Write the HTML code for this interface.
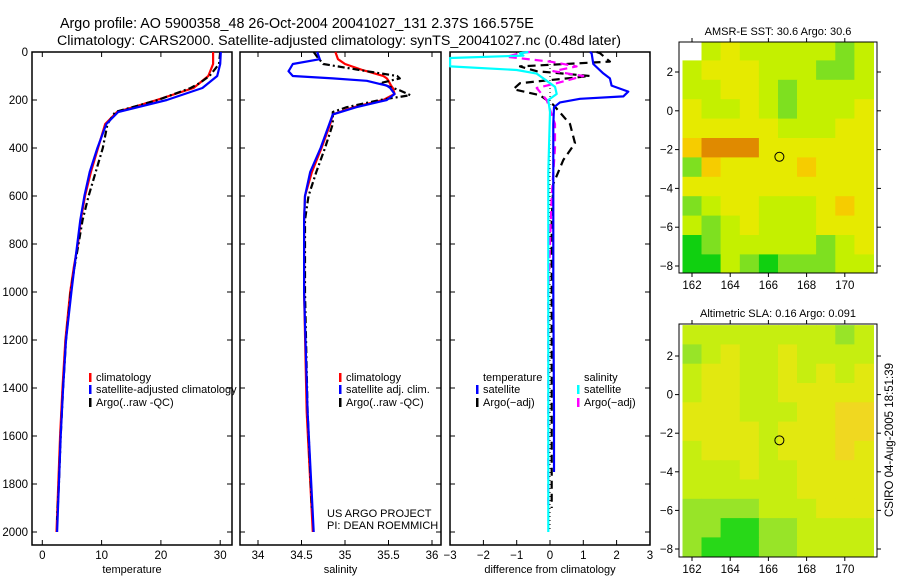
<!DOCTYPE html>
<html><head><meta charset="utf-8"><style>
html,body{margin:0;padding:0;background:#fff;}
svg{display:block;font-family:"Liberation Sans",sans-serif;}
</style></head><body>
<svg id="fig" width="900" height="580" viewBox="0 0 900 580">
<text x="60" y="28" font-size="14.3">Argo profile: AO 5900358_48 26-Oct-2004 20041027_131 2.37S 166.575E</text>
<text x="57" y="45" font-size="14.2" textLength="564" lengthAdjust="spacingAndGlyphs">Climatology: CARS2000. Satellite-adjusted climatology: synTS_20041027.nc (0.48d later)</text>
</svg>
<script>
// ---------- DATA ----------
const depthLevels = [0,50,100,150,200,250,300,400,500,600,700,800,900,1000,1200,1400,1600,1800,2000];
const tempClim = [28.8,28.8,28,25.5,19.3,12.6,10.6,9.4,8.2,7.2,6.5,6,5.3,4.7,3.9,3.4,3.0,2.7,2.4];
const tempSat = [30.1,30,29.5,27,21,12.8,10.8,9.3,8.0,7.1,6.4,5.9,5.4,4.9,4.0,3.5,3.1,2.8,2.5];
const tempArgoDepth = [0,50,100,130,150,200,250,300,400,500,600,700,800,900,1000,1200,1400,1600,1800,1950];
const tempArgo = [30,29.8,28.2,26.5,25,19.5,12.3,11,10.2,9,7.8,6.8,6.1,5.4,4.8,4.0,3.5,3.1,2.8,2.5];

const salDepth = [0,30,50,75,80,100,110,120,140,150,175,200,230,260,300,400,500,600,700,1000,1500,2000];
const salClim = [34.89,34.92,35.0,35.2,35.25,35.44,35.48,35.5,35.53,35.55,35.57,35.44,35.1,34.86,34.83,34.73,34.62,34.54,34.53,34.53,34.56,34.63];
const salSat = [34.68,34.71,34.4,34.36,34.35,34.4,34.86,35.25,35.48,35.52,35.57,35.48,35.13,34.86,34.82,34.72,34.6,34.54,34.53,34.53,34.57,34.64];
const salArgoDepth = [0,20,50,80,100,110,130,160,180,200,230,250,300,400,500,600,700,1000,1500,1900];
const salArgo = [34.64,34.68,34.75,35.25,35.6,35.63,35.4,35.63,35.75,35.4,35.02,34.86,34.86,34.77,34.67,34.58,34.54,34.54,34.57,34.62];

const dTempSatDepth = [0,5,50,89,110,140,165,185,195,210,230,300,600,1000,1500,1750];
const dTempSat = [1.2,1.25,1.3,1.6,1.8,1.85,2.35,2.2,0.9,0.3,0.12,0.1,0.1,0.1,0.12,0.12];
const dSalSatDepth = [0,5,15,25,40,60,75,90,120,145,175,200,250,500,1000,1500,2000];
const dSalSat = [-0.65,-0.9,-0.8,-3,-3,-3,-1,-0.4,-0.1,0.15,0.2,-0.05,0,-0.05,-0.05,-0.05,-0.05];
const dTempArgoDepth = [0,5,40,60,80,100,130,155,180,220,300,380,450,550,700,1000,1500,1900];
const dTempArgo = [1.4,1.5,1.8,-0.9,-0.4,1.2,-0.9,-1.1,-0.3,0.1,0.6,0.75,0.4,0.1,0.05,0.05,0.05,0.05];
const dSalArgoDepth = [0,5,20,40,60,80,100,130,150,200,300,400,600,1000,1500,1900];
const dSalArgo = [-0.6,-0.9,-1.3,0.0,0.8,0.1,1.0,0.2,-0.4,-0.1,0.15,0.15,0.05,-0.05,-0.05,-0.05];

const depthTicks = [0,200,400,600,800,1000,1200,1400,1600,1800,2000];
const tempTicks = [0,10,20,30];
const salTicks = [34,34.5,35,35.5,36];
const salTickLabels = ["34","34.5","35","35.5","36"];
const diffTicks = [-3,-2,-1,0,1,2,3];
const lonTicks = [162,164,166,168,170];
const latTicks = [-8,-6,-4,-2,0,2];

const sstGrid = [
 [-1,2,3,2,2,2,2,2,1,2],
 [2,3,3,3,2,2,2,1,1,2],
 [2,2,3,3,2,1,2,2,2,2],
 [3,2,2,3,2,1,2,2,2,3],
 [3,3,3,3,3,2,2,2,3,3],
 [4,5,5,5,3,3,3,3,3,3],
 [1,4,3,3,3,3,4,3,3,3],
 [3,3,3,3,3,3,3,3,3,3],
 [1,2,3,3,2,2,2,3,4,3],
 [2,1,2,3,2,2,2,3,3,3],
 [0,1,2,2,2,2,2,1,2,3],
 [0,0,2,1,0,1,1,1,2,2]];
const slaGrid = [
 [2,2,2,2,2,2,2,2,1,2],
 [1,2,3,2,2,3,2,2,2,2],
 [2,3,3,2,2,3,2,3,2,3],
 [2,3,3,2,2,3,3,3,3,3],
 [3,3,3,2,2,2,3,3,4,4],
 [3,3,3,3,2,3,3,3,4,4],
 [2,3,3,3,2,3,3,3,4,3],
 [2,2,2,3,2,2,3,3,3,3],
 [2,2,2,2,2,2,3,3,3,3],
 [1,1,1,1,2,2,2,3,3,3],
 [1,1,0,0,1,1,2,2,2,2],
 [1,0,0,0,1,1,2,2,2,2]];
const floatLon = 166.575, floatLat = -2.37;

// ---------- DRAWING ----------
const svg = document.getElementById('fig');
const NS = 'http://www.w3.org/2000/svg';
function mk(tag, attrs, parent){const e=document.createElementNS(NS,tag);for(const k in attrs)e.setAttribute(k,attrs[k]);(parent||svg).appendChild(e);return e;}
function txt(x,y,s,size,anchor,parent){const t=mk('text',{x:x,y:y,'font-size':size,'text-anchor':anchor||'start'},parent);t.textContent=s;return t;}

const yD = d => 52 + d*0.24;
const panels = [
 {name:'temperature-panel', x0:32, x1:232, f:v=>42.3+v*5.93, ticks:tempTicks, labels:tempTicks.map(String), title:'temperature'},
 {name:'salinity-panel', x0:240, x1:441, f:v=>258+(v-34)*87, ticks:salTicks, labels:salTickLabels, title:'salinity'},
 {name:'difference-panel', x0:450, x1:650, f:v=>550+v*33.3, ticks:diffTicks, labels:diffTicks.map(v=>v<0?'\u2212'+(-v):String(v)), title:'difference from climatology'}
];
panels.forEach((p,i)=>{
  const g = mk('g',{});
  
  
  const r = mk('rect',{x:p.x0,y:52,width:p.x1-p.x0,height:493,fill:'none',stroke:'#000','stroke-width':1.5},g);
  
  
  depthTicks.forEach(d=>{
    mk('line',{x1:p.x0,x2:p.x0+5,y1:yD(d),y2:yD(d),stroke:'#000'},g);
    mk('line',{x1:p.x1-5,x2:p.x1,y1:yD(d),y2:yD(d),stroke:'#000'},g);
    if(i===0){const t=txt(28,yD(d)+4,String(d),11.5,'end',g);
      
      }
  });
  p.ticks.forEach((v,k)=>{
    const x=p.f(v);
    mk('line',{x1:x,x2:x,y1:52,y2:57,stroke:'#000'},g);
    mk('line',{x1:x,x2:x,y1:540,y2:545,stroke:'#000'},g);
    const t=txt(x,559,p.labels[k],11.5,'middle',g);
    
    
  });
  const xt=txt((p.x0+p.x1)/2,573,p.title,11,'middle',g);
  
  
});

function series(depths, vals, f, color, dash, name){
  const pts = depths.map((d,i)=>f(vals[i]).toFixed(1)+','+yD(d).toFixed(1)).join(' ');
  const a={points:pts,fill:'none',stroke:color,'stroke-width':2.2,'stroke-linejoin':'round'};
  if(dash)a['stroke-dasharray']=dash;
  const pl=mk('polyline',a);
  
  
}
const fT=panels[0].f, fS=panels[1].f, fD=panels[2].f;
series(depthLevels,tempClim,fT,'#f00',null,'temp-climatology-line');
series(tempArgoDepth,tempArgo,fT,'#000','7,3,2,3','temp-argo-line');
series(depthLevels,tempSat,fT,'#00f',null,'temp-satellite-line');
series(salDepth,salClim,fS,'#f00',null,'sal-climatology-line');
series(salArgoDepth,salArgo,fS,'#000','7,3,2,3','sal-argo-line');
series(salDepth,salSat,fS,'#00f',null,'sal-satellite-line');
const zl=mk('line',{x1:fD(0),x2:fD(0),y1:yD(0),y2:yD(2000),stroke:'#000','stroke-dasharray':'1,3'});


series(dTempArgoDepth,dTempArgo,fD,'#000','8,5','diff-temp-argo-line');
series(dSalArgoDepth,dSalArgo,fD,'#f0f','8,5','diff-sal-argo-line');
series(dTempSatDepth,dTempSat,fD,'#00f',null,'diff-temp-satellite-line');
series(dSalSatDepth,dSalSat,fD,'#0ff',null,'diff-sal-satellite-line');

function legend(x,y,color,label,name){
  const g=mk('g',{});
  
  
  if(color) mk('rect',{x:x,y:y-8,width:2.5,height:9,fill:color},g);
  txt(x+7,y,label,11,'start',g);
}
legend(89,381,'#f00','climatology','legend-climatology');
legend(89,393,'#00f','satellite-adjusted climatology','legend-satellite-adjusted');
legend(89,406,'#000','Argo(..raw -QC)','legend-argo');
legend(339,381,'#f00','climatology','legend-sal-climatology');
legend(339,393,'#00f','satellite adj. clim.','legend-sal-satellite');
legend(339,406,'#000','Argo(..raw -QC)','legend-sal-argo');
legend(476,381,null,'temperature','legend-temperature-header');
legend(476,393,'#00f','satellite','legend-diff-temp-satellite');
legend(476,406,'#000','Argo(\u2212adj)','legend-diff-temp-argo');
legend(577,381,null,'salinity','legend-salinity-header');
legend(577,393,'#0ff','satellite','legend-diff-sal-satellite');
legend(577,406,'#f0f','Argo(\u2212adj)','legend-diff-sal-argo');
const c1=txt(327,517,'US ARGO PROJECT',11);


const c2=txt(327,529,'PI: DEAN ROEMMICH',11);



const sstColors={'-1':'#ffffff',0:'#10d010',1:'#7ee020',2:'#c4f000',3:'#e6ea00',4:'#f6cc00',5:'#e08a00',6:'#b02000'};
const slaColors={'-1':'#ffffff',0:'#28d818',1:'#98e428',2:'#c6ee10',3:'#e2e810',4:'#f0d820'};
function drawMap(top,bottom,lat2y,lat8y,grid,colors,title,name){
  const g=mk('g',{});
  
  
  const L=679,R=877;
  const fx=lon=>692+(lon-162)*19.1;
  const fy=lat=>lat2y+(2-lat)*(lat8y-lat2y)/10;
  const clip=mk('clipPath',{id:name+'-clip'},g);
  mk('rect',{x:L,y:top,width:R-L,height:bottom-top},clip);
  const cg=mk('g',{'clip-path':'url(#'+name+'-clip)'},g);
  grid.forEach((row,r)=>row.forEach((v,c)=>{
    const la=3.6-r, lo=161.5+c;
    const x0=fx(lo), y0=fy(la);
    const cell=mk('rect',{x:x0.toFixed(1),y:y0.toFixed(1),width:(fx(lo+1)-x0+0.5).toFixed(1),height:(fy(la-1)-y0+0.5).toFixed(1),fill:colors[v]},cg);
    
    
  }));
  mk('rect',{x:L,y:top,width:R-L,height:bottom-top,fill:'none',stroke:'#000','stroke-width':1},g);
  lonTicks.forEach(lo=>{
    mk('line',{x1:fx(lo),x2:fx(lo),y1:top-4,y2:top,stroke:'#000'},g);
    mk('line',{x1:fx(lo),x2:fx(lo),y1:bottom,y2:bottom+4,stroke:'#000'},g);
    const t=txt(fx(lo),bottom+16,String(lo),11.5,'middle',g);
    
    
  });
  latTicks.forEach(la=>{
    mk('line',{x1:L-4,x2:L,y1:fy(la),y2:fy(la),stroke:'#000'},g);
    mk('line',{x1:R,x2:R+4,y1:fy(la),y2:fy(la),stroke:'#000'},g);
    const t=txt(L-6,fy(la)+4,la<0?'\u2212'+(-la):String(la),11.5,'end',g);
    
    
  });
  const ci=mk('circle',{cx:fx(floatLon),cy:fy(floatLat),r:4.5,fill:'none',stroke:'#000','stroke-width':1},g);
  
  
  const tt=txt((L+R)/2,top-7,title,11,'middle',g);
  
  
}
drawMap(42,273,72,266,sstGrid,sstColors,'AMSR-E SST: 30.6 Argo: 30.6','sst-map');
drawMap(324,557,356,549,slaGrid,slaColors,'Altimetric SLA: 0.16 Argo: 0.091','sla-map');

const cs=txt(0,0,'CSIRO 04-Aug-2005 18:51:39',11.5,'middle');
cs.setAttribute('transform','translate(893,440) rotate(-90)');


</script>
</body></html>
